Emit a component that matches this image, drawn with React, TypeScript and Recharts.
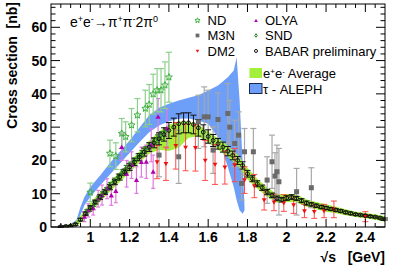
import React from 'react';
import { ComposedChart, Area, Scatter, ErrorBar, XAxis, YAxis } from 'recharts';

// e+e- -> pi+ pi- 2pi0 cross section; energies in GeV, sigma in nb

const babarE = [0.85, 0.875, 0.9, 0.925, 0.95, 0.975, 1.0, 1.025, 1.05, 1.075, 1.1, 1.125, 1.15, 1.175, 1.2, 1.225, 1.25, 1.275, 1.3, 1.325, 1.35, 1.375, 1.4, 1.425, 1.45, 1.475, 1.5, 1.525, 1.55, 1.575, 1.6, 1.625, 1.65, 1.675, 1.7, 1.725, 1.75, 1.775, 1.8, 1.825, 1.85, 1.875, 1.9, 1.925, 1.95, 1.975, 2.0, 2.025, 2.05, 2.075, 2.1, 2.125, 2.15, 2.175, 2.2, 2.225, 2.25, 2.275, 2.3, 2.325, 2.35, 2.375, 2.4, 2.425, 2.45, 2.475, 2.5];
const babarSigma = [0.1, 0.2, 0.3, 0.8, 2.2, 4.0, 5.8, 7.5, 9.0, 10.5, 12.0, 13.5, 15.0, 16.5, 18.0, 19.5, 21.0, 22.5, 24.0, 25.3, 26.5, 27.8, 29.0, 30.0, 31.0, 31.3, 31.3, 30.8, 29.8, 28.5, 27.2, 26.0, 25.0, 24.0, 22.8, 21.5, 20.0, 18.5, 16.0, 14.5, 13.0, 11.8, 10.5, 9.5, 8.6, 8.2, 8.7, 9.0, 8.6, 7.9, 7.2, 6.8, 6.4, 6.0, 5.7, 5.4, 5.1, 4.8, 4.4, 4.1, 3.8, 3.6, 3.4, 3.2, 3.0, 2.7, 2.4];
const babarErr = [0.2, 0.2, 0.2, 0.3, 0.4, 0.5, 0.6, 0.6, 0.7, 0.7, 0.8, 0.8, 0.9, 0.9, 1.0, 1.0, 1.1, 1.2, 1.3, 1.5, 1.8, 2.0, 2.4, 2.7, 3.0, 3.0, 3.0, 2.8, 2.5, 2.2, 2.0, 1.8, 1.6, 1.5, 1.4, 1.3, 1.2, 1.1, 1.0, 0.9, 0.9, 0.8, 0.8, 0.7, 0.7, 0.7, 0.7, 0.7, 0.6, 0.6, 0.6, 0.5, 0.5, 0.5, 0.5, 0.4, 0.4, 0.4, 0.4, 0.4, 0.3, 0.3, 0.3, 0.3, 0.3, 0.3, 0.3];

const avgE = [0.85, 0.9, 0.925, 0.95, 1.0, 1.05, 1.1, 1.15, 1.2, 1.25, 1.3, 1.35, 1.4, 1.45, 1.5, 1.55, 1.6, 1.65, 1.7, 1.75, 1.8, 1.85, 1.9, 1.95, 2.0, 2.05, 2.1, 2.15, 2.2, 2.25, 2.3, 2.35, 2.4, 2.45, 2.5];
const avgLow = [0, 0, 0.2, 1.2, 4.3, 7.6, 10.6, 13.5, 16.4, 19.3, 22.0, 23.2, 22.8, 23.8, 26.8, 27.3, 25.3, 23.3, 21.1, 18.3, 14.3, 11.6, 9.1, 7.3, 7.5, 7.4, 6.1, 5.3, 4.6, 4.1, 3.5, 3.0, 2.6, 2.2, 1.6];
const avgHigh = [0.3, 0.8, 1.5, 3.4, 7.2, 10.5, 13.5, 16.5, 19.6, 22.7, 25.9, 28.7, 30.7, 31.7, 31.7, 30.7, 28.7, 26.7, 24.5, 21.7, 17.7, 14.5, 11.9, 9.9, 9.9, 9.8, 8.3, 7.5, 6.8, 6.1, 5.3, 4.6, 4.2, 3.8, 3.2];

const alephE = [0.86, 0.9, 0.93, 0.95, 0.97, 1.0, 1.05, 1.1, 1.15, 1.2, 1.25, 1.3, 1.35, 1.4, 1.45, 1.5, 1.55, 1.6, 1.65, 1.7, 1.73, 1.745, 1.76, 1.775, 1.785];
const alephLow = [0, 0.1, 0.8, 3.5, 6.5, 9, 12.5, 15.8, 19, 22.2, 25.5, 28.5, 30.5, 31.8, 32.5, 32.6, 32, 31, 27, 18, 12, 8, 5, 4, 5];
const alephHigh = [0.3, 0.8, 2.2, 6, 9, 12, 15.5, 19.2, 22.6, 26, 29.8, 33.6, 35.8, 37, 38, 38.8, 39.6, 41, 42.5, 45, 47, 51, 38, 20, 6];

const ndE = [1.0, 1.1, 1.13, 1.16, 1.18, 1.21, 1.24, 1.28, 1.3, 1.32, 1.34, 1.36, 1.38, 1.4];
const ndSigma = [10.4, 22.1, 21.3, 28.1, 27.1, 30.6, 33.6, 35.6, 36.8, 39.9, 41.1, 41.1, 42.6, 45.0];
const ndErr = [2.8, 4, 4, 4.5, 4.5, 5, 5, 5.5, 6, 6, 6.5, 6.5, 7, 7.5];

const m3nE = [1.35, 1.45, 1.55, 1.58, 1.6, 1.625, 1.65, 1.7, 1.71, 1.735, 1.755, 1.77, 1.785, 1.83, 1.9, 1.925, 1.94, 1.95, 1.96, 2.05, 2.125];
const m3nSigma = [21.6, 21.1, 31.6, 33.1, 33.1, 23.1, 32.3, 34.1, 30, 25.1, 27.6, 13.1, 22.6, 22.6, 14.1, 19.6, 15.3, 16.6, 13.6, 10.6, 11.8];
const m3nErr = [6.5, 8, 8, 9, 8, 7, 8, 9, 8, 7, 7, 5, 7, 7, 7, 8, 7, 8, 10, 7, 6];

const dm2E = [1.34, 1.385, 1.435, 1.485, 1.535, 1.585, 1.635, 1.685, 1.735, 1.785, 1.835, 1.885, 1.935, 1.985, 2.035, 2.09, 2.14, 2.19, 2.24, 2.4];
const dm2Sigma = [19.5, 19.0, 24.4, 23.9, 23.8, 20.0, 18.8, 17.9, 18.6, 14.1, 12.3, 8.1, 7.4, 7.2, 6.6, 4.8, 4.6, 4.8, 5.3, 3.1];
const dm2Err = [5, 5, 7, 7, 7, 6, 6, 5, 5, 4, 3.5, 3, 2.5, 2.5, 2.5, 2, 2, 2, 2.5, 1.5];

const olyaE = [0.97, 0.99, 1.015, 1.04, 1.06, 1.085, 1.107, 1.13, 1.16, 1.185, 1.21, 1.235, 1.26, 1.285, 1.31, 1.32, 1.345, 1.39];
const olyaSigma = [3.1, 5.0, 5.6, 8.5, 9.6, 11.5, 9.5, 10.8, 24.0, 16.0, 18.6, 14.1, 19.5, 19.6, 24.6, 16.6, 33.1, 29.6];
const olyaErr = [1.5, 2, 2, 2.5, 3, 3, 3, 3.5, 4, 4, 4, 4, 4.5, 5, 5, 5, 5.5, 6];

const sndE = [0.98, 1.0, 1.02, 1.04, 1.06, 1.08, 1.1, 1.12, 1.14, 1.16, 1.18, 1.2, 1.22, 1.24, 1.26, 1.28, 1.3, 1.32, 1.34, 1.36, 1.38];
const sndSigma = [4.5, 5.5, 7.0, 8.5, 9.8, 11.0, 12.5, 13.8, 15.0, 16.3, 17.5, 18.5, 19.8, 21.0, 22.0, 23.2, 24.3, 25.5, 26.5, 27.5, 28.5];
const sndErr = [0.8, 0.8, 0.8, 0.8, 0.8, 0.8, 0.9, 0.9, 0.9, 0.9, 1, 1, 1, 1, 1, 1, 1.1, 1.1, 1.2, 1.2, 1.3];

const xMajor = [1, 1.2, 1.4, 1.6, 1.8, 2, 2.2, 2.4];
const yMajor = [0, 10, 20, 30, 40, 50, 60];

const xTicks: number[] = [];
for (let i = 1; i < 34; i++) xTicks.push(Math.round((0.8 + i * 0.05) * 1000) / 1000);
const yTicks: number[] = [];
for (let v = 0; v <= 66; v += 2) yTicks.push(v);

// plot frame in page pixels
const W = 395;
const H = 267;
const LEFT = 51;
const TOP = 4;
const RIGHT = 385;
const BOTTOM = 227;

const FONT = '"Liberation Sans", Arial, Helvetica, sans-serif';

const toPoints = (e: number[], s: number[], err: number[]) =>
  e.map((x, i) => ({ x, y: s[i], err: err[i] }));
const toBand = (e: number[], lo: number[], hi: number[]) =>
  e.map((x, i) => ({ x, band: [lo[i], hi[i]] }));

const babar = toPoints(babarE, babarSigma, babarErr);
const nd = toPoints(ndE, ndSigma, ndErr);
const m3n = toPoints(m3nE, m3nSigma, m3nErr);
const dm2 = toPoints(dm2E, dm2Sigma, dm2Err);
const olya = toPoints(olyaE, olyaSigma, olyaErr);
const snd = toPoints(sndE, sndSigma, sndErr);
const avgBand = toBand(avgE, avgLow, avgHigh);
const alephBand = toBand(alephE, alephLow, alephHigh);

const isMajor = (v: number, majors: number[]) => majors.some(m => Math.abs(m - v) < 1e-6);

const BottomTick = ({ x, payload }: any) => {
  const major = isMajor(payload.value, xMajor);
  const len = major ? 8 : 4;
  return (
    <g>
      <line x1={x} x2={x} y1={BOTTOM} y2={BOTTOM - len} stroke="#000" />
      <line x1={x} x2={x} y1={TOP} y2={TOP + len} stroke="#000" />
      {major && (
        <text x={x} y={BOTTOM + 15} textAnchor="middle" fontSize={14} fontWeight="bold" fontFamily={FONT} fill="#000">
          {payload.value}
        </text>
      )}
    </g>
  );
};

const LeftTick = ({ y, payload }: any) => {
  const major = isMajor(payload.value, yMajor);
  const len = major ? 9 : 4.5;
  return (
    <g>
      <line x1={LEFT} x2={LEFT + len} y1={y} y2={y} stroke="#000" />
      <line x1={RIGHT} x2={RIGHT - len} y1={y} y2={y} stroke="#000" />
      {major && (
        <text x={LEFT - 4} y={y + 5} textAnchor="end" fontSize={14} fontWeight="bold" fontFamily={FONT} fill="#000">
          {payload.value}
        </text>
      )}
    </g>
  );
};

// markers (s = size scale)
const starPath = (cx: number, cy: number, r: number) => {
  const pts: string[] = [];
  for (let k = 0; k < 10; k++) {
    const rr = k % 2 === 0 ? r : r * 0.45;
    const a = -Math.PI / 2 + (k * Math.PI) / 5;
    pts.push(`${(cx + rr * Math.cos(a)).toFixed(2)},${(cy + rr * Math.sin(a)).toFixed(2)}`);
  }
  return pts.join(' ');
};

const Star = ({ cx, cy, s = 1 }: any) => (
  <polygon points={starPath(cx, cy, 3.6 * s)} fill="none" stroke="#3cae3c" strokeWidth={1} />
);
const Square = ({ cx, cy, s = 1 }: any) => (
  <rect x={cx - 2.5 * s} y={cy - 2.5 * s} width={5 * s} height={5 * s} fill="#6a6a6a" />
);
const TriDown = ({ cx, cy, s = 1 }: any) => (
  <polygon points={`${cx - 2.4 * s},${cy - 1.8 * s} ${cx + 2.4 * s},${cy - 1.8 * s} ${cx},${cy + 2.4 * s}`} fill="#ee1111" />
);
const TriUp = ({ cx, cy, s = 1 }: any) => (
  <polygon points={`${cx - 2.6 * s},${cy + 2 * s} ${cx + 2.6 * s},${cy + 2 * s} ${cx},${cy - 2.6 * s}`} fill="#b000b0" />
);
const Diamond = ({ cx, cy, s = 1 }: any) => (
  <polygon points={`${cx},${cy - 2.2 * s} ${cx + 1.6 * s},${cy} ${cx},${cy + 2.2 * s} ${cx - 1.6 * s},${cy}`} fill="none" stroke="#1f7a1f" strokeWidth={1} />
);
const Circle = ({ cx, cy, s = 1 }: any) => (
  <circle cx={cx} cy={cy} r={1.9 * s} fill="none" stroke="#111" strokeWidth={1} />
);

const Legend = () => {
  const t = { fontSize: 13, fontFamily: FONT, fill: '#000' } as const;
  return (
    <g>
      <Star cx={197.5} cy={20.5} s={0.75} />
      <text x={207.5} y={25} {...t}>ND</text>
      <Square cx={197.5} cy={35.5} s={0.75} />
      <text x={207.5} y={40} {...t}>M3N</text>
      <TriDown cx={197.5} cy={51} s={0.7} />
      <text x={207.5} y={55.5} {...t}>DM2</text>

      <TriUp cx={256} cy={20.5} s={0.7} />
      <text x={265} y={25} {...t}>OLYA</text>
      <Diamond cx={256} cy={35.5} s={0.8} />
      <text x={265} y={40} {...t}>SND</text>
      <Circle cx={256} cy={51} s={0.8} />
      <text x={265} y={55.5} {...t}>BABAR preliminary</text>

      <rect x={249.5} y={68} width={12.5} height={10} fill="#a3ef3c" />
      <text x={263} y={77.5} {...t}>
        e<tspan baselineShift="super" fontSize={8}>+</tspan>e<tspan baselineShift="super" fontSize={8}>-</tspan> Average
      </text>
      <rect x={249.5} y={83.5} width={12.5} height={10} fill="#6e9ff8" stroke="#1a2a50" strokeWidth={1} />
      <text x={263} y={94} {...t}>τ - ALEPH</text>
    </g>
  );
};

const Overlay = () => (
  <svg width={W} height={H} style={{ position: 'absolute', left: 0, top: 0, pointerEvents: 'none' }}>
    <rect x={LEFT} y={TOP} width={RIGHT - LEFT} height={BOTTOM - TOP} fill="none" stroke="#000" strokeWidth={1} />
    <text x={70} y={27} fontSize={14} fontFamily={FONT} fill="#000">
      e<tspan baselineShift="super" fontSize={9}>+</tspan>e<tspan baselineShift="super" fontSize={9}>-</tspan>→π<tspan baselineShift="super" fontSize={9}>+</tspan>π<tspan baselineShift="super" fontSize={9}>-</tspan>2π<tspan baselineShift="super" fontSize={9}>0</tspan>
    </text>
    <Legend />
    <text transform="translate(17,2) rotate(-90)" textAnchor="end" fontSize={14} fontWeight="bold" fontFamily={FONT} fill="#000" xmlSpace="preserve">
      Cross section  [nb]
    </text>
    <text x={RIGHT} y={262} textAnchor="end" fontSize={14} fontWeight="bold" fontFamily={FONT} fill="#000" xmlSpace="preserve">
      √s   [GeV]
    </text>
  </svg>
);

export default function App() {
  return (
    <div style={{ position: 'absolute', left: 0, top: 0, width: W, height: H, background: '#fff' }}>
      <ComposedChart width={W} height={H} margin={{ top: TOP, right: W - RIGHT, bottom: 0, left: 0 }}>
        <XAxis
          dataKey="x"
          type="number"
          domain={[0.8, 2.5]}
          allowDataOverflow
          ticks={xTicks}
          interval={0}
          height={H - BOTTOM}
          tickSize={0}
          tickMargin={0}
          axisLine={false}
          tickLine={false}
          tick={<BottomTick />}
        />
        <YAxis
          type="number"
          domain={[0, 67]}
          allowDataOverflow
          ticks={yTicks}
          interval={0}
          width={LEFT}
          tickSize={0}
          tickMargin={0}
          axisLine={false}
          tickLine={false}
          tick={<LeftTick />}
        />
        <Area data={alephBand} dataKey="band" type="linear" fill="#6e9ff8" fillOpacity={1} stroke="none" isAnimationActive={false} />
        <Area data={avgBand} dataKey="band" type="linear" fill="#a3ef3c" fillOpacity={1} stroke="none" isAnimationActive={false} />
        <Scatter data={olya} dataKey="y" shape={<TriUp />} isAnimationActive={false}>
          <ErrorBar dataKey="err" direction="y" width={2} stroke="#e07ae0" strokeWidth={1.2} />
        </Scatter>
        <Scatter data={nd} dataKey="y" shape={<Star />} isAnimationActive={false}>
          <ErrorBar dataKey="err" direction="y" width={3} stroke="#8ccf8c" strokeWidth={1.2} />
        </Scatter>
        <Scatter data={m3n} dataKey="y" shape={<Square />} isAnimationActive={false}>
          <ErrorBar dataKey="err" direction="y" width={3} stroke="#a8a8a8" strokeWidth={1.2} />
        </Scatter>
        <Scatter data={dm2} dataKey="y" shape={<TriDown />} isAnimationActive={false}>
          <ErrorBar dataKey="err" direction="y" width={3} stroke="#ff4a4a" strokeWidth={1} />
        </Scatter>
        <Scatter data={snd} dataKey="y" shape={<Diamond />} isAnimationActive={false}>
          <ErrorBar dataKey="err" direction="y" width={2} stroke="#2a7a2a" strokeWidth={1} />
        </Scatter>
        <Scatter data={babar} dataKey="y" shape={<Circle />} isAnimationActive={false}>
          <ErrorBar dataKey="err" direction="y" width={3} stroke="#111" strokeWidth={1} />
        </Scatter>
      </ComposedChart>
      <Overlay />
    </div>
  );
}
